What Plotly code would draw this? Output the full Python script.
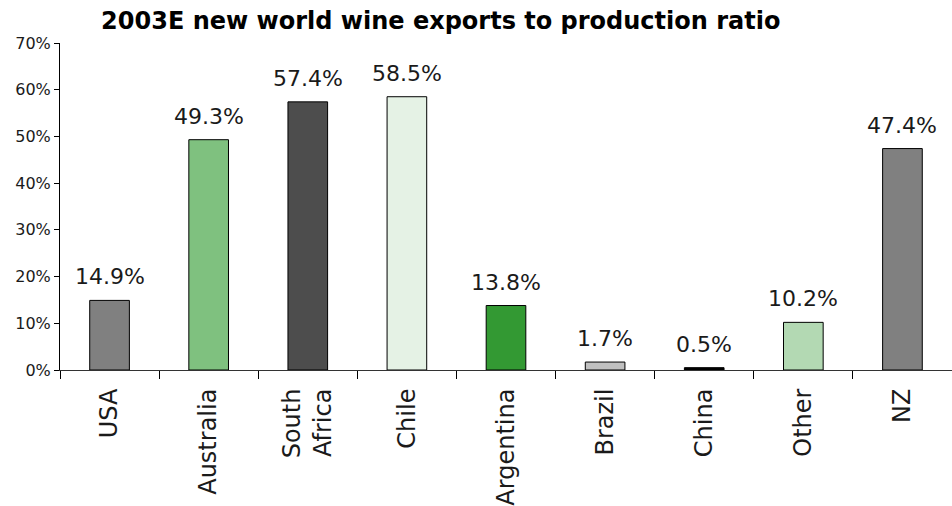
import plotly.graph_objects as go

categories = ["USA", "Australia", "South<br>Africa", "Chile", "Argentina", "Brazil", "China", "Other", "NZ"]
values = [14.9, 49.3, 57.4, 58.5, 13.8, 1.7, 0.5, 10.2, 47.4]
colors = ["#808080", "#7fc17f", "#4d4d4d", "#e5f2e5", "#339933", "#c0c0c0", "#000000", "#b3d9b3", "#808080"]
y_ticks = [0, 10, 20, 30, 40, 50, 60, 70]

fig = go.Figure(go.Bar(
    x=categories,
    y=values,
    marker=dict(color=colors, line=dict(color="#000000", width=1)),
    width=0.4,
))

for c, v in zip(categories, values):
    fig.add_annotation(x=c, y=v, text=f"{v:.1f}%", showarrow=False,
                       yanchor="bottom", yshift=9,
                       font=dict(family="DejaVu Sans", size=22, color="#1a1a1a"))

fig.update_layout(
    width=952, height=506,
    margin=dict(l=60, r=0, t=43, b=136),
    paper_bgcolor="white", plot_bgcolor="white",
    showlegend=False,
    title=dict(text="<b>2003E new world wine exports to production ratio</b>",
               x=0.463, xanchor="center", y=0.96, yanchor="middle",
               font=dict(family="DejaVu Sans", size=24, color="#000000")),
    font=dict(family="DejaVu Sans", color="#000000"),
)
fig.update_yaxes(range=[0, 70], tickvals=y_ticks, ticktext=[f"{t}%" for t in y_ticks],
                 showline=True, linecolor="#000000", linewidth=1, ticks="outside",
                 ticklen=5, tickcolor="#000000", showgrid=False, zeroline=False,
                 tickfont=dict(size=16, color="#1a1a1a"))
fig.update_xaxes(showline=True, linecolor="#333333", linewidth=1, ticks="outside",
                 tickson="boundaries", ticklen=8, tickcolor="#000000", tickangle=-90,
                 tickfont=dict(size=24, color="#1a1a1a"), ticklabelstandoff=8, showgrid=False)

fig.write_html("out.html")
